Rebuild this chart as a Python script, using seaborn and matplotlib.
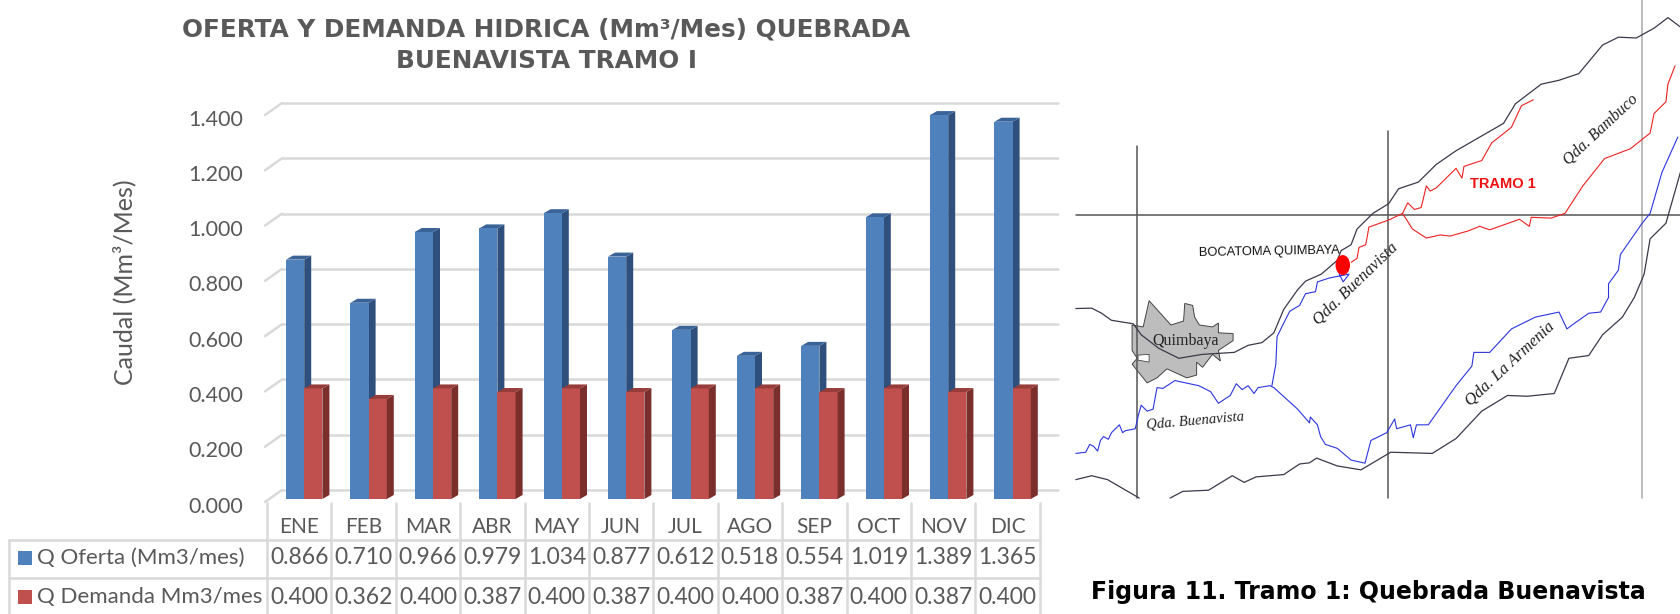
import pandas as pd
import numpy as np
import matplotlib.pyplot as plt
from matplotlib.patches import Polygon, Ellipse, Rectangle
from matplotlib.transforms import ScaledTranslation
import seaborn as sns

sns.set_style("white")

months = ["ENE", "FEB", "MAR", "ABR", "MAY", "JUN", "JUL", "AGO", "SEP", "OCT", "NOV", "DIC"]
oferta = [0.866, 0.710, 0.966, 0.979, 1.034, 0.877, 0.612, 0.518, 0.554, 1.019, 1.389, 1.365]
demanda = [0.400, 0.362, 0.400, 0.387, 0.400, 0.387, 0.400, 0.400, 0.387, 0.400, 0.387, 0.400]
series_names = ["Q Oferta (Mm3/mes)", "Q Demanda Mm3/mes"]
y_ticks = [0.0, 0.2, 0.4, 0.6, 0.8, 1.0, 1.2, 1.4]

front_colors = ["#4F81BD", "#C0504D"]
side_colors = ["#2F4F7C", "#7A2F2D"]
top_colors = ["#3A6497", "#963C3A"]
TEXT = "#595959"
GRID = "#D9D9D9"
CHART_FONT = "Lato"

W, H = 1681, 614

ridge_top = [(40,788),(80,787),(105,800),(130,818),(185,827),(205,855),(250,890),(300,915),(360,905),(440,900),(475,882),(510,875),(540,850),(565,790),(600,740),(620,718),(660,700),(700,665),(710,640),(735,625),(750,585),(790,545),(830,520),(855,482),(905,465),(950,420),(1000,385),(1060,350),(1120,315),(1150,265),(1215,215),(1260,205),(1310,188),(1370,115),(1410,95),(1455,97),(1500,72),(1535,45),(1568,70)]
ridge_low_a = [(40,1225),(80,1215),(120,1225),(200,1272)]
ridge_low_b = [(278,1272),(310,1255),(375,1252),(435,1215),(465,1232),(495,1218),(565,1212),(605,1185),(630,1182),(648,1170),(700,1190),(760,1200),(835,1155),(940,1158),(1000,1120),(1065,1050),(1130,1010),(1180,1012),(1248,1005),(1285,915),(1335,908),(1370,855),(1420,810),(1450,760),(1475,700),(1490,610),(1530,570),(1568,435)]
river_main = [(40,1158),(65,1155),(75,1135),(85,1140),(95,1152),(102,1125),(110,1115),(122,1122),(130,1105),(150,1085),(158,1105),(165,1100),(190,1095),(198,1060),(205,1035),(220,1050),(235,1045),(245,990),(260,992),(290,972),(350,985),(380,1000),(400,1030),(430,1010),(445,980),(460,995),(475,985),(490,1005),(500,990),(530,985),(540,990),(600,1045),(630,1080),(632,1065),(650,1085),(658,1115),(670,1135),(700,1145),(735,1175),(770,1183),(785,1125),(825,1105),(845,1070),(850,1095),(885,1085),(892,1118),(900,1085),(930,1085),(1000,985),(1040,935),(1045,900),(1085,900),(1140,840),(1200,810),(1260,797),(1280,840),(1300,825),(1335,800),(1365,797),(1385,760),(1385,725),(1410,690),(1415,650),(1470,570),(1490,545),(1520,440),(1560,350)]
river_branch = [(535,985),(545,930),(548,860),(565,825),(580,795),(605,780),(620,750),(645,745),(650,720),(680,710),(730,700),(715,720),(705,700)]
tramo_a = [(735,670),(750,660),(755,632),(772,625),(780,580),(830,562),(865,545),(878,518),(895,535),(912,530),(925,475),(935,488),(950,480),(1000,430),(1015,455),(1020,425),(1065,410),(1090,365),(1140,325),(1165,270),(1195,255)]
tramo_b = [(865,545),(890,585),(925,608),(960,600),(985,603),(1030,590),(1060,578),(1085,587),(1160,560),(1185,578),(1190,555),(1240,557),(1275,545),(1320,475),(1375,405),(1440,380),(1490,340),(1500,290),(1530,260),(1535,215),(1553,168)]
town = [(225,768),(280,830),(312,820),(315,775),(335,780),(340,810),(352,830),(385,835),(400,825),(400,850),(437,852),(437,870),(400,895),(405,922),(385,905),(360,938),(345,925),(345,958),(320,965),(270,942),(245,965),(220,978),(182,930),(195,915),(182,895),(182,830),(210,835)]
town_hole = [(197,907),(225,905),(225,925),(210,922),(197,920)]


def zx(x):
    return 1060 + x / 2.525


def zy(y):
    return y / 2.554


def trace(pts):
    return [(zx(x), zy(y)) for x, y in pts]


fig = plt.figure(figsize=(W / 100, H / 100), dpi=100)

# full-figure pixel canvas for table, map and captions
canvas = fig.add_axes([0, 0, 1, 1], zorder=0)
canvas.set_xlim(0, W)
canvas.set_ylim(H, 0)
canvas.axis("off")

# chart axes, bars sit at y=499 (0) and 276.4 px per unit
left, right, bottom, top = 272, 1044.8, 499, 499 - 1.4 * 276.4
ax = fig.add_axes([left / W, 1 - bottom / H, (right - left) / W, (bottom - top) / H], zorder=1)
ax.patch.set_alpha(0)

df = pd.DataFrame({
    "mes": months * 2,
    "valor": oferta + demanda,
    "serie": [series_names[0]] * 12 + [series_names[1]] * 12,
})
sns.barplot(data=df, x="mes", y="valor", hue="serie", palette=front_colors,
            width=0.565, gap=0, saturation=1, legend=False, ax=ax, linewidth=0)

ax.set_xlim(-0.5, 11.5)
ax.set_ylim(0, 1.4)
ax.set_xlabel("")
ax.set_ylabel("")
sns.despine(ax=ax, left=True, bottom=True)

px = 1 / 64.4
py = 1 / 276.4

# back wall gridlines and the small slanted ticks
for v in y_ticks:
    ax.plot([-0.5 - 7 * px, -0.5 + 10 * px], [v - 3 * py, v + 9 * py], color=GRID, lw=1.8,
            clip_on=False, zorder=0.5, solid_capstyle="round")
    ax.plot([-0.5 + 10 * px, 11.5 + 13 * px], [v + 9 * py, v + 9 * py], color=GRID, lw=1.8,
            clip_on=False, zorder=0.5)

# fake 3D depth on each bar
dx, dy = 7 * px, 4 * py
for i, bar in enumerate(ax.patches):
    s = 0 if i < 12 else 1
    x0, w, h = bar.get_x(), bar.get_width(), bar.get_height()
    x1 = x0 + w
    z = 0.9 if s == 0 else 1.1
    ax.add_patch(Polygon([(x1, 0), (x1 + dx, dy), (x1 + dx, h + dy), (x1, h)],
                         facecolor=side_colors[s], edgecolor="none", clip_on=False, zorder=z))
    ax.add_patch(Polygon([(x0, h), (x0 + dx, h + dy), (x1 + dx, h + dy), (x1, h)],
                         facecolor=top_colors[s], edgecolor="none", clip_on=False, zorder=z))

ax.set_yticks(y_ticks)
ax.set_yticklabels([f"{v:.3f}" for v in y_ticks], fontsize=15.5, color=TEXT, family=CHART_FONT)
ax.set_xticks([])
ax.tick_params(axis="y", length=0, pad=20.5)
for lab in ax.get_yticklabels():
    lab.set_transform(lab.get_transform() + ScaledTranslation(0, -4 / 72, fig.dpi_scale_trans))

# title and y label
canvas.text(546, 29, "OFERTA Y DEMANDA HIDRICA (Mm³/Mes) QUEBRADA", ha="center", va="center",
            fontsize=17.8, fontweight="bold", color=TEXT, family="DejaVu Sans")
canvas.text(547, 61, "BUENAVISTA TRAMO I", ha="center", va="center",
            fontsize=17.8, fontweight="bold", color=TEXT, family="DejaVu Sans")
canvas.text(124, 282, "Caudal (Mm³/Mes)", rotation=90, ha="center", va="center",
            fontsize=18, color=TEXT, family=CHART_FONT)

# data table under the chart
col0, col_w = 267, 64.4
row_lines = [540, 578]
for i in range(13):
    canvas.plot([col0 + i * col_w] * 2, [503, 614], color=GRID, lw=1.8)
canvas.plot([9, 9], [540, 614], color=GRID, lw=1.8)
for y in row_lines:
    canvas.plot([9, col0 + 12 * col_w], [y, y], color=GRID, lw=1.8)

for i, m in enumerate(months):
    cx = col0 + (i + 0.5) * col_w
    canvas.text(cx, 527, m, ha="center", va="center", fontsize=15, color=TEXT, family=CHART_FONT)
    canvas.text(cx, 558, f"{oferta[i]:.3f}", ha="center", va="center", fontsize=16.5, color=TEXT, family=CHART_FONT)
    canvas.text(cx, 597, f"{demanda[i]:.3f}", ha="center", va="center", fontsize=16.5, color=TEXT, family=CHART_FONT)

for s, y in enumerate([558, 597]):
    canvas.add_patch(Rectangle((18, y - 7), 14, 14, facecolor=front_colors[s], edgecolor="none"))
    canvas.text(37, y, series_names[s], ha="left", va="center", fontsize=16, color=TEXT, family=CHART_FONT)

# map on the right
for vx, y0, y1, col in [(195, 373, 1272, "#555555"), (829, 335, 1272, "#555555"), (1470, 0, 1272, "#A8A8A8")]:
    canvas.plot([zx(vx)] * 2, [zy(y0), zy(y1)], color=col, lw=1.1)
canvas.plot([zx(40), zx(1568)], [zy(550), zy(550)], color="#555555", lw=1.1)

canvas.add_patch(Polygon(trace(town), facecolor="#BDBDBD", edgecolor="#444444", lw=0.7))
canvas.add_patch(Polygon(trace(town_hole), facecolor="white", edgecolor="#444444", lw=0.6))

for pts in [ridge_top, ridge_low_a, ridge_low_b]:
    xy = np.array(trace(pts))
    canvas.plot(xy[:, 0], xy[:, 1], color="#3A3A4A", lw=0.9)
for pts in [river_main, river_branch]:
    xy = np.array(trace(pts))
    canvas.plot(xy[:, 0], xy[:, 1], color="#2A35E0", lw=0.8)
for pts in [tramo_a, tramo_b]:
    xy = np.array(trace(pts))
    canvas.plot(xy[:, 0], xy[:, 1], color="#F02020", lw=0.8)

canvas.add_patch(Ellipse((zx(714), zy(677)), 14.5, 20, facecolor="#FF0000", edgecolor="none", zorder=5))

canvas.text(zx(528), zy(643), "BOCATOMA QUIMBAYA", ha="center", va="center", rotation=1,
            fontsize=9.3, color="#111111", family="Liberation Sans")
canvas.text(zx(1118), zy(470), "TRAMO 1", ha="center", va="center",
            fontsize=10.5, color="#EE1111", family="Liberation Sans", fontweight="bold")
for tx, ty, s, rot, fs in [(318, 870, "Quimbaya", 0, 11.5),
                           (342, 1075, "Qda. Buenavista", 5, 10.5),
                           (745, 725, "Qda. Buenavista", 44, 12),
                           (1135, 930, "Qda. La Armenia", 43, 12),
                           (1365, 330, "Qda. Bambuco", 43, 11.5)]:
    canvas.text(zx(tx), zy(ty), s, ha="center", va="center", rotation=rot, rotation_mode="anchor",
                fontsize=fs, style="normal" if s == "Quimbaya" else "italic", color="#222222",
                family="Liberation Serif")

canvas.text(1368, 592, "Figura 11. Tramo 1: Quebrada Buenavista", ha="center", va="center",
            fontsize=17, fontweight="bold", color="black", family="DejaVu Sans")

fig.savefig("out.png", dpi=100)
plt.close(fig)
